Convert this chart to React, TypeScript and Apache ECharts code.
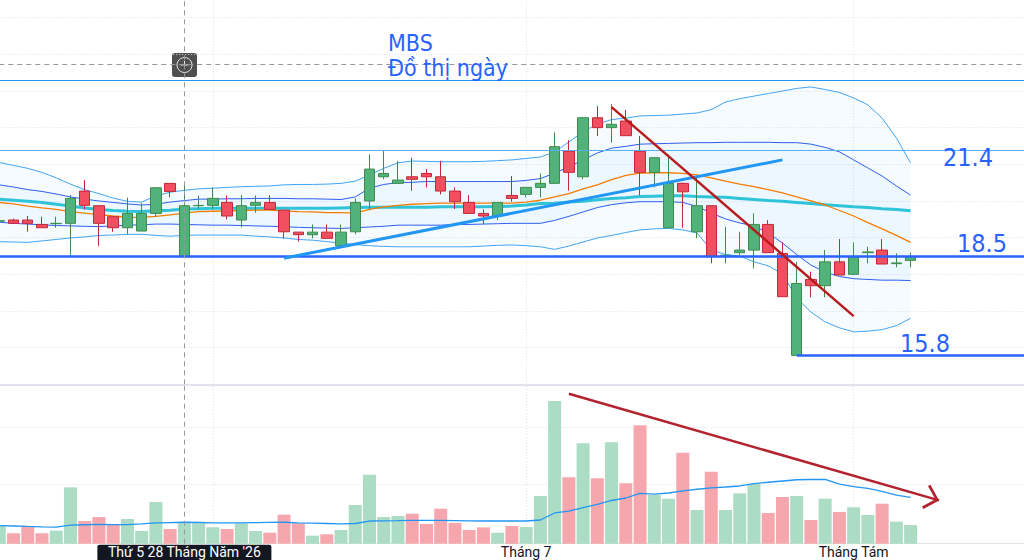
import React, { useEffect, useRef } from "react";
import * as echarts from "echarts";

// ---------- categories (trading days) ----------
const categories = [
  "2026-05-11","2026-05-12","2026-05-13","2026-05-14","2026-05-15","2026-05-18","2026-05-19","2026-05-20","2026-05-21","2026-05-22",
  "2026-05-25","2026-05-26","2026-05-27","2026-05-28","2026-05-29","2026-06-01","2026-06-02","2026-06-03","2026-06-04","2026-06-05",
  "2026-06-08","2026-06-09","2026-06-10","2026-06-11","2026-06-12","2026-06-15","2026-06-16","2026-06-17","2026-06-18","2026-06-19",
  "2026-06-22","2026-06-23","2026-06-24","2026-06-25","2026-06-26","2026-06-29","2026-06-30","2026-07-01","2026-07-02","2026-07-03",
  "2026-07-06","2026-07-07","2026-07-08","2026-07-09","2026-07-10","2026-07-13","2026-07-14","2026-07-15","2026-07-16","2026-07-17",
  "2026-07-20","2026-07-21","2026-07-22","2026-07-23","2026-07-24","2026-07-27","2026-07-28","2026-07-29","2026-07-30","2026-07-31",
  "2026-08-03","2026-08-04","2026-08-05","2026-08-06","2026-08-07","2026-08-10","2026-08-11","2026-08-12","2026-08-13","2026-08-14",
  "2026-08-17","2026-08-18","2026-08-19",
];

// ---------- tick labels ----------
const crosshairDate = "2026-05-28";
const crosshairPrice = 23.72;
const tickLabels: Record<string, string> = {
  "2026-05-28": "Thứ 5 28 Tháng Năm '26",
  "2026-07-01": "Tháng 7",
  "2026-08-03": "Tháng Tám",
};
const monthStarts = ["2026-06-01", "2026-07-01", "2026-08-03"];

// ---------- OHLC ----------
const opens = [19.45,19.48,19.48,19.36,19.38,19.39,20.27,19.87,19.57,19.27,19.18,19.66,20.48,18.48,19.87,19.88,19.96,19.48,19.88,19.96,19.75,19.15,19.08,19.15,18.78,19.16,20.00,20.66,20.48,20.66,20.75,20.66,20.27,19.96,19.66,19.59,20.15,20.18,20.37,20.48,21.36,20.66,22.27,22.00,22.18,21.36,20.78,19.27,20.48,19.16,19.87,18.48,18.59,18.66,19.36,18.57,15.79,17.86,17.69,18.34,18.00,18.59,18.66,18.29,18.38];
const highs = [19.50,19.52,19.59,19.57,19.57,20.16,20.57,19.88,19.58,20.09,19.94,20.37,20.48,20.44,20.15,20.37,20.15,20.16,20.15,20.15,19.76,19.15,19.36,19.36,19.36,20.07,21.27,21.36,21.09,21.18,20.87,21.09,20.37,20.16,19.77,19.96,20.68,20.37,20.75,21.87,21.66,22.27,22.59,22.64,22.48,21.77,21.18,21.27,20.50,20.66,19.88,19.30,19.16,19.66,19.48,18.87,18.34,18.07,18.66,18.96,18.87,18.75,18.96,18.57,18.59];
const lows = [19.40,19.37,19.16,19.26,19.27,18.50,19.77,18.77,19.16,19.09,19.18,19.57,20.10,18.48,19.77,19.77,19.50,19.28,19.68,19.77,18.98,18.89,18.98,18.98,18.78,19.09,19.77,20.59,20.48,20.28,20.37,20.18,19.78,19.66,19.37,19.48,19.98,20.10,20.10,20.48,20.28,20.59,21.77,21.59,21.78,20.16,20.37,19.27,19.27,18.98,18.30,18.30,18.53,18.16,18.59,17.39,15.79,17.37,17.37,17.98,18.00,18.30,18.28,18.19,18.19];
const closes = [19.46,19.39,19.39,19.27,19.39,20.07,19.88,19.39,19.27,19.66,19.66,20.36,20.26,19.87,19.88,20.07,19.59,19.87,19.96,19.77,19.16,19.08,19.15,18.98,19.15,19.96,20.87,20.75,20.57,20.59,20.66,20.27,19.98,19.66,19.59,19.96,20.07,20.37,20.48,21.48,20.78,22.27,22.00,22.09,21.78,20.78,21.18,20.48,20.25,19.87,18.48,18.52,18.66,19.36,18.59,17.39,17.75,17.69,18.34,17.98,18.48,18.61,18.28,18.31,18.48];

// ---------- volume (millions) ----------
const volumes = [1.59,0.92,1.56,0.92,1.15,4.97,2.00,2.35,1.74,2.18,1.12,3.68,1.30,1.80,1.80,1.45,1.30,1.80,1.12,0.97,2.56,1.80,0.71,0.83,1.21,3.41,6.08,2.35,2.44,2.65,1.74,3.09,1.83,1.21,1.44,0.97,1.56,1.47,4.21,12.58,5.86,8.85,5.77,8.94,5.33,10.44,4.29,3.97,8.02,2.97,6.35,2.97,4.44,5.29,2.71,4.12,4.21,2.09,3.97,2.80,3.21,2.53,3.53,1.94,1.65];
const volumeMA = [1.59,1.56,1.52,1.49,1.47,1.63,1.67,1.70,1.69,1.68,1.74,1.83,1.86,1.89,1.87,1.84,1.83,1.84,1.86,1.88,1.89,1.84,1.81,1.78,1.75,1.78,2.00,2.02,2.03,2.05,2.05,2.05,2.04,2.02,2.00,2.00,2.00,2.00,2.09,2.71,2.87,3.19,3.46,3.81,4.03,4.44,4.38,4.47,4.66,4.80,4.93,5.00,5.09,5.30,5.42,5.53,5.64,5.66,5.68,5.26,5.03,4.87,4.62,4.29,4.09];

// ---------- indicators ----------
const bbOuterUpper = [21.05,20.97,20.89,20.78,20.63,20.46,20.31,20.20,20.08,19.99,19.97,20.14,20.24,20.29,20.33,20.35,20.37,20.39,20.40,20.41,20.44,20.45,20.45,20.46,20.48,20.54,20.71,20.89,21.04,21.09,21.08,21.07,21.07,21.07,21.08,21.10,21.12,21.16,21.20,21.34,21.61,21.89,22.10,22.22,22.26,22.32,22.33,22.34,22.37,22.40,22.49,22.70,22.79,22.86,22.93,23.00,23.07,23.11,23.04,22.96,22.81,22.62,22.26,21.72,21.04];
const bbInnerUpper = [20.44,20.38,20.31,20.26,20.19,20.11,20.05,20.00,19.96,19.92,19.89,19.91,19.97,20.01,20.05,20.05,20.06,20.06,20.07,20.07,20.07,20.06,20.06,20.05,20.04,20.11,20.35,20.45,20.50,20.51,20.53,20.53,20.53,20.53,20.53,20.53,20.53,20.56,20.61,20.76,20.93,21.12,21.31,21.44,21.49,21.55,21.56,21.57,21.58,21.59,21.59,21.60,21.60,21.60,21.60,21.59,21.59,21.55,21.46,21.34,21.12,20.90,20.68,20.41,20.16];
const bbMiddle = [19.96,19.92,19.86,19.81,19.77,19.71,19.67,19.63,19.59,19.56,19.55,19.58,19.62,19.67,19.71,19.72,19.73,19.74,19.75,19.75,19.73,19.71,19.70,19.68,19.68,19.67,19.77,19.84,19.88,19.91,19.93,19.94,19.94,19.94,19.94,19.94,19.94,19.97,20.02,20.11,20.20,20.33,20.44,20.58,20.70,20.76,20.77,20.77,20.75,20.71,20.63,20.54,20.46,20.39,20.31,20.22,20.11,20.00,19.89,19.74,19.59,19.41,19.24,19.06,18.87];
const maLong = [20.05,20.02,19.99,19.96,19.91,19.86,19.81,19.77,19.74,19.72,19.71,19.73,19.75,19.78,19.79,19.80,19.80,19.80,19.80,19.80,19.80,19.80,19.80,19.80,19.81,19.82,19.83,19.83,19.83,19.83,19.83,19.84,19.84,19.84,19.84,19.85,19.86,19.89,19.93,19.94,19.97,19.99,20.03,20.07,20.09,20.12,20.13,20.14,20.14,20.12,20.11,20.10,20.07,20.04,20.01,19.99,19.96,19.93,19.90,19.87,19.84,19.82,19.79,19.77,19.73];
const bbInnerLower = [19.42,19.39,19.37,19.35,19.33,19.32,19.31,19.30,19.32,19.34,19.35,19.37,19.37,19.36,19.35,19.34,19.34,19.33,19.32,19.31,19.30,19.28,19.27,19.26,19.25,19.27,19.29,19.31,19.34,19.34,19.34,19.34,19.36,19.36,19.37,19.38,19.39,19.39,19.39,19.47,19.58,19.70,19.82,19.90,19.95,19.98,19.98,19.98,19.96,19.85,19.67,19.51,19.40,19.32,19.13,18.85,18.54,18.25,18.06,17.94,17.88,17.86,17.84,17.84,17.83];
const bbOuterLower = [18.89,18.88,18.87,18.91,18.95,18.99,19.02,19.06,19.07,19.09,19.09,19.06,19.04,19.06,19.07,19.07,19.07,19.07,19.04,19.02,18.99,18.95,18.93,18.89,18.85,18.81,18.78,18.76,18.75,18.75,18.75,18.75,18.75,18.75,18.77,18.79,18.80,18.78,18.75,18.68,18.77,18.88,18.99,19.06,19.14,19.21,19.24,19.25,19.21,19.13,18.66,18.54,18.50,18.34,18.23,18.01,17.35,16.97,16.70,16.54,16.43,16.45,16.49,16.60,16.80];

// ---------- drawings ----------
const levelTop = 23.3;
const level214 = 21.37;
const level185 = 18.5;
const level158 = 15.8;
const level158Start = "2026-07-28";
const lastCategory = "2026-08-19";
const blueTrend: [string, number][] = [["2026-06-08", 18.44], ["2026-07-27", 21.12]];
const redTrend: [string, number][] = [["2026-07-09", 22.56], ["2026-08-03", 16.86]];
const volumeArrow: [string, number][] = [["2026-07-06", 13.22], ["2026-08-11", 3.82]];

const CHEVRON =
  "path://M0,0L0.05,0L0,0.05Z M29.36,0L29.31,0L29.36,0.05Z M14.68,14.68L27.38,27.38L25.4,29.36L14.68,18.64L3.96,29.36L1.98,27.38Z";

const annFont = "'DejaVu Sans Condensed', 'DejaVu Sans', sans-serif";
const axisFont = "Roboto, 'Noto Sans', sans-serif";
const gridLine = { color: "#dcdfe6", width: 1, type: [1, 2] as any };
const crossLine = { color: "#9598a1", width: 1, type: [5, 4] as any };

function buildOption() {
  const candleData = opens.map((o, i) => [o, closes[i], lows[i], highs[i]]);
  const volData = volumes.map((v, i) => ({
    value: v,
    itemStyle: { color: closes[i] >= opens[i] ? "#acdcc4" : "#f6a7ae" },
  }));
  const outerSpan = bbOuterUpper.map((u, i) => +(u - bbOuterLower[i]).toFixed(3));
  const innerSpan = bbInnerUpper.map((u, i) => +(u - bbInnerLower[i]).toFixed(3));
  const isMonthStart = (_i: number, v: string) => monthStarts.includes(v);
  const isLabeled = (_i: number, v: string) => tickLabels[v] !== undefined;

  const gridPos = { left: -0.74, right: -0.54, outerBoundsMode: "none", containLabel: false };
  const line = (name: string, data: number[], color: string, width: number, z = 2) => ({
    name,
    type: "line",
    xAxisIndex: 0,
    yAxisIndex: 0,
    data,
    symbol: "none",
    silent: true,
    z,
    lineStyle: { color, width },
  });
  const annText = (text: string, x: number, y: number, align: string) => ({
    type: "text", x, y, z: 10,
    style: { text, fill: "#2962ff", fontSize: 25, fontFamily: annFont, align, verticalAlign: "middle" },
  });

  return {
    animation: false,
    backgroundColor: "#ffffff",
    grid: [
      { ...gridPos, top: -0.7, height: 385 },
      { ...gridPos, top: 386, height: 157.7 },
      { ...gridPos, top: 386, height: 154.7 },
    ],
    xAxis: [
      {
        type: "category", gridIndex: 0, data: categories, boundaryGap: false,
        axisLine: { show: true, onZero: false, lineStyle: { color: "#e0e3eb", width: 2 } },
        axisTick: { show: false }, axisLabel: { show: false },
        splitLine: { show: true, interval: isMonthStart, lineStyle: gridLine },
      },
      {
        type: "category", gridIndex: 1, data: categories, boundaryGap: false,
        axisLine: { show: true, onZero: false, lineStyle: { color: "#e0e3eb", width: 1 } },
        axisTick: { show: false },
        axisLabel: {
          show: true, interval: isLabeled, margin: 1,
          formatter: (v: string) => {
            const t = tickLabels[v];
            if (!t) return "";
            return v === crosshairDate ? `{tip|${t}}` : `{m|${t}}`;
          },
          rich: {
            tip: { backgroundColor: "#131722", color: "#ffffff", fontSize: 14, fontFamily: axisFont, padding: [0, 10.5, 16, 10.5], borderRadius: 2 },
            m: { color: "#131722", fontSize: 14, fontFamily: axisFont, padding: [0, 0, 0, 0] },
          },
        },
        splitLine: { show: true, interval: isMonthStart, lineStyle: gridLine },
      },
      { type: "category", gridIndex: 2, data: categories, boundaryGap: false, show: false },
    ],
    yAxis: [
      {
        type: "value", gridIndex: 0, min: 15, max: 25.5, interval: 1, position: "right",
        axisLine: { show: false }, axisTick: { show: false }, axisLabel: { show: false },
        splitLine: { show: true, lineStyle: gridLine, showMinLine: false, showMaxLine: false },
      },
      {
        type: "value", gridIndex: 1, min: 0, max: 13.906, position: "right",
        axisLine: { show: false }, axisTick: { show: false }, axisLabel: { show: false },
        splitLine: { show: false },
      },
      {
        type: "value", gridIndex: 2, min: 0, max: 13.642, interval: 5, position: "right",
        axisLine: { show: false }, axisTick: { show: false }, axisLabel: { show: false },
        splitLine: { show: true, lineStyle: gridLine, showMinLine: false, showMaxLine: false },
      },
    ],
    series: [
      { ...line("outerBase", bbOuterLower, "rgba(0,0,0,0)", 0, 1), stack: "outer", lineStyle: { opacity: 0 } },
      { ...line("outerFill", outerSpan, "rgba(0,0,0,0)", 0, 1), stack: "outer", lineStyle: { opacity: 0 }, areaStyle: { color: "rgba(33,150,243,0.055)" } },
      { ...line("innerBase", bbInnerLower, "rgba(0,0,0,0)", 0, 1), stack: "inner", lineStyle: { opacity: 0 } },
      { ...line("innerFill", innerSpan, "rgba(0,0,0,0)", 0, 1), stack: "inner", lineStyle: { opacity: 0 }, areaStyle: { color: "rgba(33,150,243,0.055)" } },
      line("bbOuterUpper", bbOuterUpper, "#42a5f5", 1),
      line("bbOuterLower", bbOuterLower, "#42a5f5", 1),
      line("bbInnerUpper", bbInnerUpper, "#2f5ff0", 1),
      line("bbInnerLower", bbInnerLower, "#2f5ff0", 1),
      line("maLong", maLong, "#2ec3d8", 3),
      line("bbMiddle", bbMiddle, "#f57c00", 1.3),
      {
        name: "MBS",
        type: "candlestick",
        xAxisIndex: 0,
        yAxisIndex: 0,
        data: candleData,
        barWidth: 11,
        z: 3,
        itemStyle: {
          color: "#52b27c", color0: "#ef4f5e",
          borderColor: "#3e8c4b", borderColor0: "#c3283a", borderWidth: 1,
        },
        markLine: {
          silent: true,
          symbol: ["none", "none"],
          label: { show: false },
          data: [
            { yAxis: levelTop, lineStyle: { color: "#2196f3", width: 1, type: "solid" } },
            { yAxis: level214, lineStyle: { color: "#5aaef2", width: 1, type: "solid" } },
            { yAxis: level185, lineStyle: { color: "#2962ff", width: 2.5, type: "solid" } },
            [
              { coord: [level158Start, level158], lineStyle: { color: "#2962ff", width: 2.5, type: "solid" } },
              { coord: [lastCategory, level158] },
            ],
            [
              { coord: blueTrend[0], lineStyle: { color: "#2196f3", width: 3, type: "solid" } },
              { coord: blueTrend[1] },
            ],
            [
              { coord: redTrend[0], lineStyle: { color: "#b71c1c", width: 2.5, type: "solid" } },
              { coord: redTrend[1] },
            ],
            { xAxis: crosshairDate, lineStyle: crossLine },
            { yAxis: crosshairPrice, lineStyle: crossLine },
          ],
        },
      },
      {
        name: "Volume",
        type: "bar",
        xAxisIndex: 1,
        yAxisIndex: 1,
        data: volData,
        barWidth: 13,
        z: 2,
        markLine: {
          silent: true,
          symbol: ["none", "none"],
          label: { show: false },
          data: [
            { xAxis: crosshairDate, lineStyle: crossLine },
            [
              { coord: volumeArrow[0], symbol: "none", lineStyle: { color: "#b2232f", width: 2.5, type: "solid" } },
              { coord: volumeArrow[1], symbol: CHEVRON, symbolSize: 29.36 },
            ],
          ],
        },
      },
      {
        name: "VolumeMA",
        type: "line",
        xAxisIndex: 1,
        yAxisIndex: 1,
        data: volumeMA,
        symbol: "none",
        silent: true,
        z: 3,
        lineStyle: { color: "#2196f3", width: 1.3 },
      },
    ],
    graphic: [
      { type: "text", x: 388, y: 42.8, z: 10, style: { text: "MBS", fill: "#2962ff", fontSize: 23, fontFamily: annFont, verticalAlign: "middle" } },
      { type: "text", x: 388, y: 68, z: 10, style: { text: "Đồ thị ngày", fill: "#2962ff", fontSize: 23, fontFamily: annFont, verticalAlign: "middle" } },
      annText("21.4", 993, 157.5, "right"),
      annText("18.5", 1007, 243.5, "right"),
      annText("15.8", 950, 343.5, "right"),
      {
        type: "group", x: 172, y: 53, z: 10,
        children: [
          { type: "rect", shape: { x: 0, y: 0, width: 25, height: 24, r: 3 }, style: { fill: "#4f4f4f" } },
          { type: "circle", shape: { cx: 12.5, cy: 12, r: 7.5 }, style: { fill: "none", stroke: "#e6e6e6", lineWidth: 1 } },
          { type: "line", shape: { x1: 8.5, y1: 12, x2: 16.5, y2: 12 }, style: { stroke: "#e6e6e6", lineWidth: 1 } },
          { type: "line", shape: { x1: 12.5, y1: 8, x2: 12.5, y2: 16 }, style: { stroke: "#e6e6e6", lineWidth: 1 } },
        ],
      },
    ],
  };
}

export default function App() {
  const ref = useRef<HTMLDivElement>(null);
  useEffect(() => {
    if (!ref.current) return;
    const chart = echarts.init(ref.current, undefined, { renderer: "svg", width: 1024, height: 560 });
    chart.setOption(buildOption() as any);
    return () => chart.dispose();
  }, []);
  return (
    <div
      ref={ref}
      style={{ position: "absolute", left: 0, top: 0, width: 1024, height: 560, background: "#ffffff", overflow: "hidden" }}
    />
  );
}
